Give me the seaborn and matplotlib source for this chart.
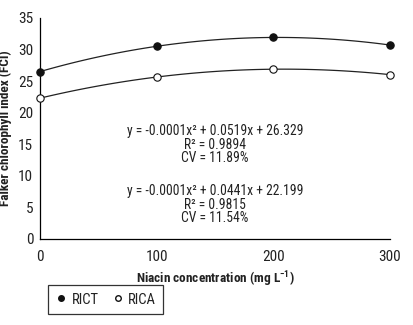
import matplotlib
matplotlib.use("Agg")
import matplotlib.pyplot as plt
import seaborn as sns
import pandas as pd
from matplotlib.lines import Line2D

niacin = [0, 100, 200, 300]
rict = [26.5, 30.5, 31.9, 30.7]
rica = [22.3, 25.6, 26.9, 26.0]
eq_rict = ["y = -0.0001x² + 0.0519x + 26.329", "R² = 0.9894", "CV = 11.89%"]
eq_rica = ["y = -0.0001x² + 0.0441x + 22.199", "R² = 0.9815", "CV = 11.54%"]
xticks = [0, 100, 200, 300]
yticks = [0, 5, 10, 15, 20, 25, 30, 35]

sns.set_style("white")
plt.rcParams['font.family'] = ['Liberation Sans Narrow', 'Roboto Condensed', 'Liberation Sans', 'DejaVu Sans']
plt.rcParams['mathtext.fontset'] = 'custom'
plt.rcParams['mathtext.rm'] = 'Roboto Condensed:bold'
plt.rcParams['mathtext.default'] = 'rm'

df = pd.DataFrame({"x": niacin * 2, "y": rict + rica,
                   "s": ["RICT"] * 4 + ["RICA"] * 4})

fig = plt.figure(figsize=(4.14, 3.25), dpi=100)
ax = fig.add_axes([0.097, 0.265, 0.845, 0.68])

for name in ["RICT", "RICA"]:
    sub = df[df.s == name]
    sns.regplot(data=sub, x="x", y="y", order=2, ci=None, scatter=False,
                truncate=True, ax=ax, line_kws=dict(color="#222222", lw=0.9))
sns.scatterplot(data=df[df.s == "RICT"], x="x", y="y", ax=ax, color="#111111",
                s=28, edgecolor="#111111", linewidth=0.8, zorder=5, clip_on=False)
sns.scatterplot(data=df[df.s == "RICA"], x="x", y="y", ax=ax, color="white",
                s=28, edgecolor="#111111", linewidth=0.8, zorder=5, clip_on=False)

ax.set_xlim(0, 300)
ax.set_ylim(0, 35)
ax.set_xticks(xticks)
ax.set_yticks(yticks)
for s in ["top", "right"]:
    ax.spines[s].set_visible(False)
for s in ["left", "bottom"]:
    ax.spines[s].set_color("black")
    ax.spines[s].set_linewidth(0.9)
ax.tick_params(axis="x", direction="in", length=3, width=0.8, pad=8, labelsize=11, colors="#222222")
ax.tick_params(axis="y", direction="out", length=3, width=0.8, pad=2, labelsize=11, colors="#222222")
ax.set_xlabel("Niacin concentration (mg L$^{-1}$)", fontsize=9.5, fontweight="bold", labelpad=4, color="#222222")
ax.set_ylabel("Falker chlorophyll index (FCI)", fontsize=9.5, fontweight="bold", labelpad=4, color="#222222")

ax.text(150, 14.9, "\n".join(eq_rict), ha="center", va="center", fontsize=9.8,
        linespacing=0.95, color="#222222", multialignment="center")
ax.text(150, 5.4, "\n".join(eq_rica), ha="center", va="center", fontsize=9.8,
        linespacing=0.95, color="#222222", multialignment="center")

handles = [Line2D([], [], marker="o", ls="none", color="#111111", markersize=4),
           Line2D([], [], marker="o", ls="none", markerfacecolor="white",
                  markeredgecolor="#111111", markersize=4)]
leg = fig.legend(handles, ["RICT", "RICA"], loc="lower left",
                 bbox_to_anchor=(0.099, 0.012), ncol=2, frameon=True, fancybox=False,
                 fontsize=10.5, handletextpad=0.3, columnspacing=0.9, handlelength=0.8,
                 borderpad=0.5)
leg.get_frame().set_edgecolor("black")
leg.get_frame().set_linewidth(0.9)
for t in leg.get_texts():
    t.set_color("#222222")

fig.savefig("out.png", dpi=100)
